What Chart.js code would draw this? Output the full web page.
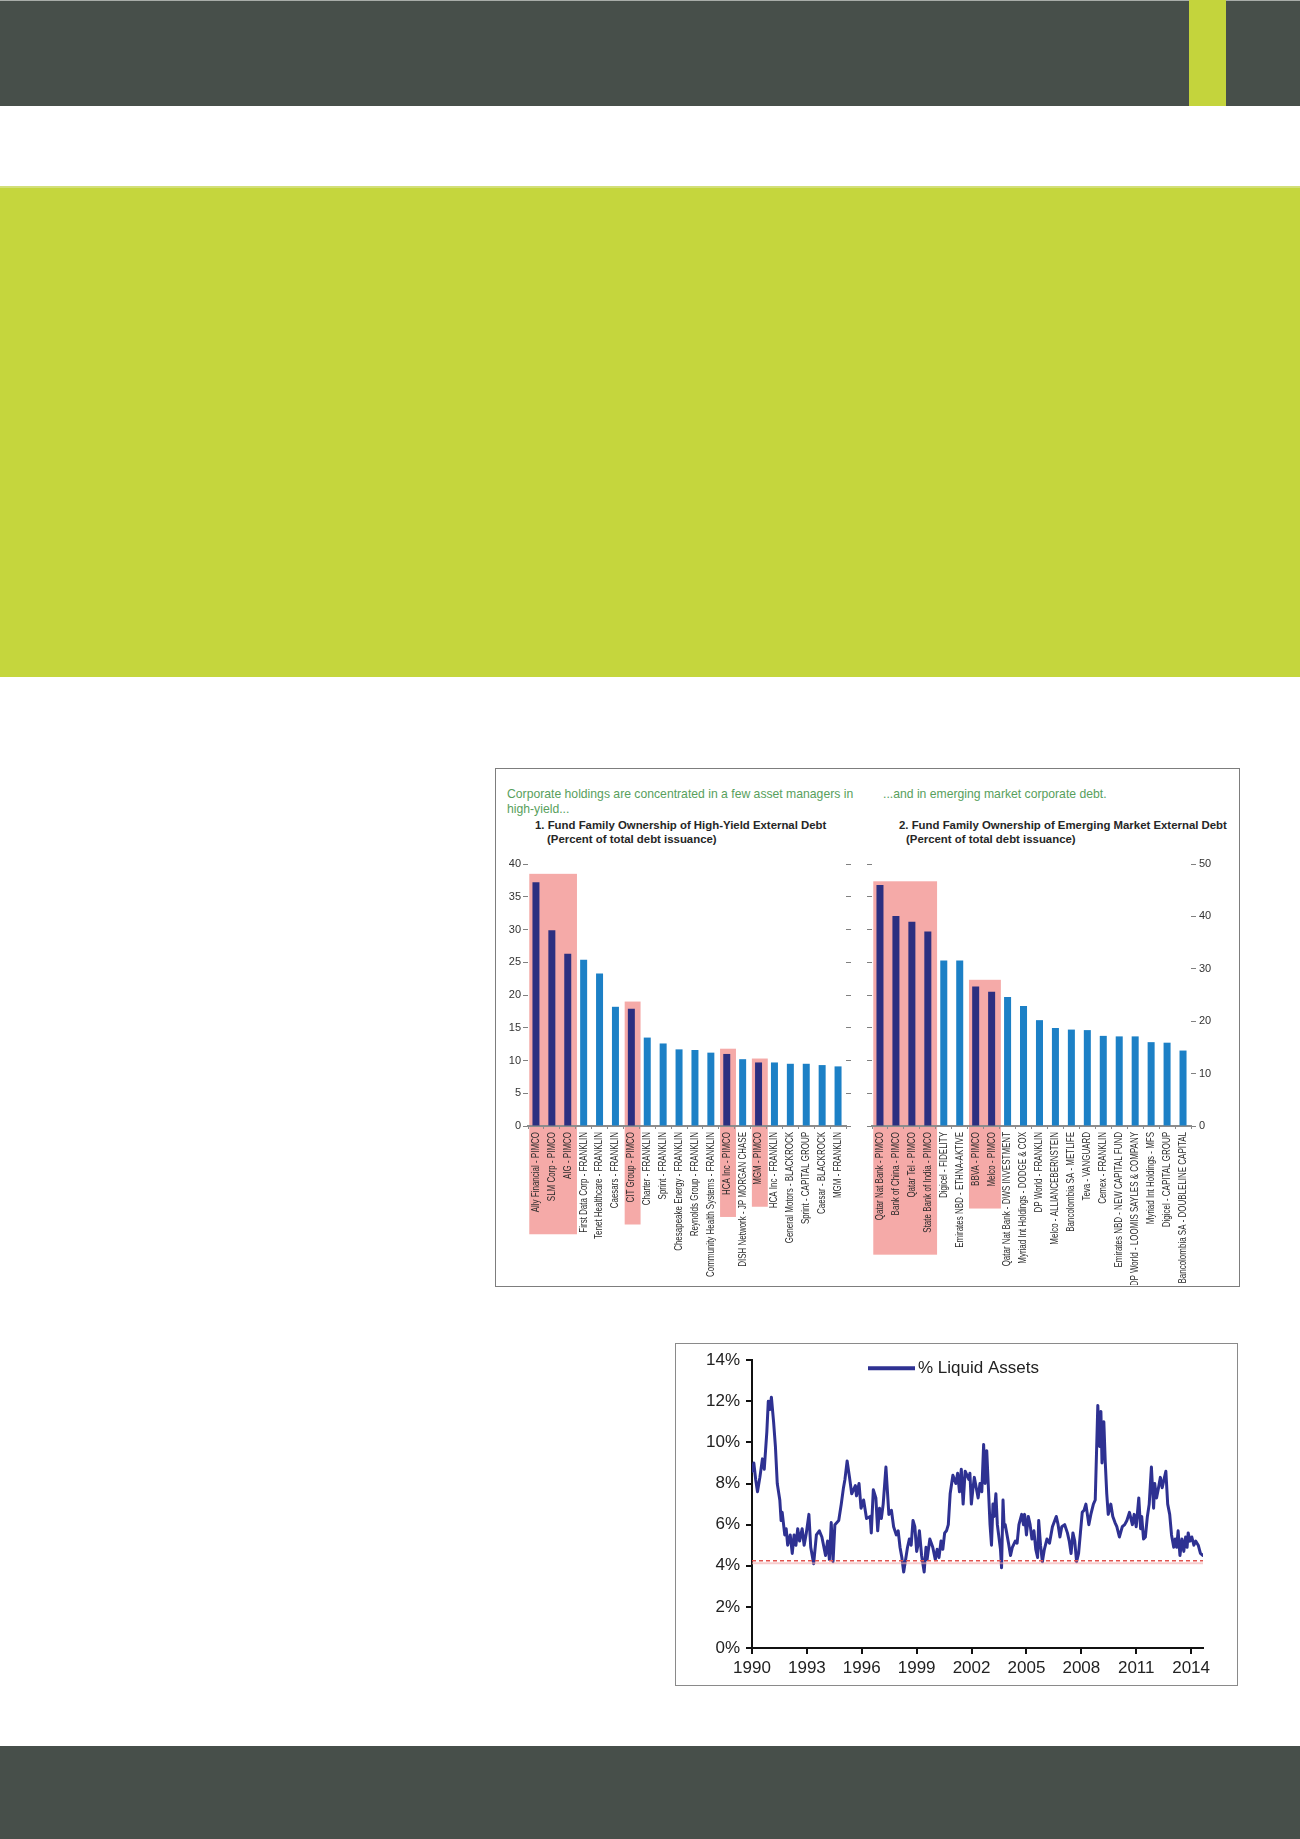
<!DOCTYPE html>
<html>
<head>
<meta charset="utf-8">
<script src="https://cdn.jsdelivr.net/npm/chart.js@4.4.1/dist/chart.umd.min.js"></script>
<style>
    html, body { margin: 0; padding: 0; background: #fff; }
    #page { position: relative; width: 1300px; height: 1839px; overflow: hidden; font-family: "Liberation Sans", Arial, sans-serif; }
    .abs { position: absolute; box-sizing: border-box; white-space: nowrap; }
    #topbar { left: 0; top: 0; width: 1300px; height: 106px; background: #474f4a; border-top: 1px solid #a8ada9; }
    #stripe { left: 1189px; top: 0; width: 37px; height: 106px; background: #c4d43c; }
    #lime { left: 0; top: 186px; width: 1300px; height: 491px; background: #c5d63d; border-top: 2px solid #d2df79; }
    #barbox { left: 495px; top: 768px; width: 745px; height: 519px; border: 1.5px solid #7d7d7d; }
    #linebox { left: 675px; top: 1343px; width: 563px; height: 343px; border: 1.5px solid #8a8a8a; }
    #bottombar { left: 0; top: 1746px; width: 1300px; height: 93px; background: #474f4a; }
    .sub { color: #58a05c; font-size: 12.2px; line-height: 15px; }
    .ttl { color: #262626; font-size: 11.4px; font-weight: bold; line-height: 13px; }
    canvas { position: absolute; }
</style>
</head>
<body>
<div id="page">
    <div id="topbar" class="abs"></div>
    <div id="stripe" class="abs"></div>
    <div id="lime" class="abs"></div>

    <div id="barbox" class="abs"></div>
    <div class="abs sub" style="left:507px;top:787px;">Corporate holdings are concentrated in a few asset managers in<br>high-yield...</div>
    <div class="abs sub" style="left:883px;top:787px;">...and in emerging market corporate debt.</div>
    <div class="abs ttl" style="left:535px;top:819px;">1. Fund Family Ownership of High-Yield External Debt</div>
    <div class="abs ttl" style="left:547px;top:833px;">(Percent of total debt issuance)</div>
    <div class="abs ttl" style="left:899px;top:819px;">2. Fund Family Ownership of Emerging Market External Debt</div>
    <div class="abs ttl" style="left:906px;top:833px;">(Percent of total debt issuance)</div>
    <canvas id="hyChart" width="361" height="435" style="left:497px;top:850px;"></canvas>
    <canvas id="emChart" width="380" height="435" style="left:858px;top:850px;"></canvas>

    <div id="linebox" class="abs"></div>
    <canvas id="liqChart" width="561" height="341" style="left:676px;top:1344px;"></canvas>

    <div id="bottombar" class="abs"></div>
</div>

<script>
    // high-yield external debt, percent of issuance
    const hyLabels = [
        "Ally Financial - PIMCO", "SLM Corp - PIMCO", "AIG - PIMCO", "First Data Corp - FRANKLIN",
        "Tenet Healthcare - FRANKLIN", "Caesars - FRANKLIN", "CIT Group - PIMCO", "Charter - FRANKLIN",
        "Sprint - FRANKLIN", "Chesapeake Energy - FRANKLIN", "Reynolds Group - FRANKLIN",
        "Community Health Systems - FRANKLIN", "HCA Inc - PIMCO", "DISH Network - JP MORGAN CHASE",
        "MGM - PIMCO", "HCA Inc - FRANKLIN", "General Motors - BLACKROCK", "Sprint - CAPITAL GROUP",
        "Caesar - BLACKROCK", "MGM - FRANKLIN"
    ];
    const hyValues = [37.2, 29.9, 26.3, 25.4, 23.3, 18.2, 17.9, 13.5, 12.6, 11.7, 11.6, 11.2, 11.0, 10.2, 9.7, 9.7, 9.5, 9.5, 9.3, 9.1];
    // [first index, last index, top value] of the pink highlight boxes
    const hyBoxes = [[0, 2, 38.5], [6, 6, 19.0], [12, 12, 11.8], [14, 14, 10.3]];

    // emerging market external debt
    const emLabels = [
        "Qatar Nat Bank - PIMCO", "Bank of China - PIMCO", "Qatar Tel - PIMCO", "State Bank of India - PIMCO",
        "Digicel - FIDELITY", "Emirates NBD - ETHNA-AKTIVE", "BBVA - PIMCO", "Melco - PIMCO",
        "Qatar Nat Bank - DWS INVESTMENT", "Myriad Int Holdings - DODGE & COX", "DP World - FRANKLIN",
        "Melco - ALLIANCEBERNSTEIN", "Bancolombia SA - METLIFE", "Teva - VANGUARD", "Cemex - FRANKLIN",
        "Emirates NBD - NEW CAPITAL FUND", "DP World - LOOMIS SAYLES & COMPANY", "Myriad Int Holdings - MFS",
        "Digicel - CAPITAL GROUP", "Bancolombia SA - DOUBLELINE CAPITAL"
    ];
    const emValues = [46.0, 40.1, 39.0, 37.1, 31.6, 31.6, 26.6, 25.6, 24.6, 22.9, 20.2, 18.7, 18.4, 18.3, 17.2, 17.1, 17.1, 16.0, 15.9, 14.4];
    const emBoxes = [[0, 3, 46.7], [6, 7, 27.9]];

    // % liquid assets
    const liqYears = [
        1990.00, 1990.10, 1990.20, 1990.30, 1990.43, 1990.57, 1990.67, 1990.81, 1990.89, 1990.98,
        1991.06, 1991.18, 1991.28, 1991.38, 1991.52, 1991.59, 1991.65, 1991.79, 1991.87, 1991.95,
        1992.09, 1992.20, 1992.30, 1992.40, 1992.50, 1992.60, 1992.74, 1992.85, 1992.97, 1993.11,
        1993.21, 1993.37, 1993.52, 1993.68, 1993.82, 1994.02, 1994.13, 1994.23, 1994.33, 1994.43,
        1994.53, 1994.74, 1994.88, 1995.00, 1995.08, 1995.20, 1995.33, 1995.45, 1995.65, 1995.71,
        1995.85, 1995.96, 1996.10, 1996.26, 1996.46, 1996.52, 1996.63, 1996.77, 1996.87, 1996.97,
        1997.07, 1997.17, 1997.32, 1997.48, 1997.62, 1997.74, 1997.89, 1997.99, 1998.09, 1998.19,
        1998.29, 1998.50, 1998.60, 1998.70, 1998.80, 1998.90, 1999.00, 1999.07, 1999.15, 1999.27,
        1999.41, 1999.51, 1999.57, 1999.72, 1999.88, 2000.02, 2000.12, 2000.22, 2000.33, 2000.43,
        2000.53, 2000.63, 2000.73, 2000.83, 2000.98, 2001.14, 2001.24, 2001.34, 2001.44, 2001.54,
        2001.65, 2001.85, 2001.91, 2001.99, 2002.07, 2002.15, 2002.36, 2002.46, 2002.56, 2002.66,
        2002.74, 2002.83, 2002.93, 2003.01, 2003.09, 2003.17, 2003.23, 2003.33, 2003.41, 2003.48,
        2003.58, 2003.64, 2003.72, 2003.78, 2003.84, 2003.92, 2004.02, 2004.13, 2004.23, 2004.39,
        2004.49, 2004.59, 2004.74, 2004.84, 2004.90, 2005.00, 2005.10, 2005.20, 2005.30, 2005.41,
        2005.51, 2005.61, 2005.67, 2005.77, 2005.87, 2005.98, 2006.12, 2006.26, 2006.42, 2006.63,
        2006.73, 2006.83, 2006.93, 2007.09, 2007.24, 2007.34, 2007.44, 2007.54, 2007.64, 2007.74,
        2007.85, 2007.95, 2008.05, 2008.15, 2008.25, 2008.41, 2008.52, 2008.66, 2008.76, 2008.90,
        2009.00, 2009.07, 2009.13, 2009.23, 2009.31, 2009.39, 2009.47, 2009.61, 2009.72, 2009.84,
        2009.94, 2010.08, 2010.24, 2010.37, 2010.49, 2010.63, 2010.79, 2010.89, 2011.00, 2011.14,
        2011.24, 2011.30, 2011.40, 2011.50, 2011.61, 2011.71, 2011.83, 2011.95, 2012.01, 2012.11,
        2012.22, 2012.32, 2012.42, 2012.52, 2012.62, 2012.72, 2012.83, 2012.93, 2013.05, 2013.13,
        2013.21, 2013.29, 2013.39, 2013.50, 2013.60, 2013.70, 2013.78, 2013.84, 2013.94, 2014.04,
        2014.15, 2014.25, 2014.39, 2014.51, 2014.65
    ];
    const liqValues = [
        8.6, 9.0, 8.2, 7.6, 8.3, 9.2, 8.7, 10.5, 12.0, 11.6,
        12.2, 11.0, 9.8, 8.0, 7.2, 6.2, 6.6, 5.5, 5.8, 5.0,
        5.5, 4.6, 5.5, 5.0, 5.8, 5.2, 5.8, 5.0, 5.6, 6.5,
        4.9, 4.1, 5.5, 5.7, 5.4, 4.5, 5.2, 4.3, 6.1, 4.2,
        6.0, 6.2, 7.0, 7.8, 8.2, 9.1, 8.3, 7.5, 7.9, 7.4,
        8.0, 6.8, 7.2, 6.3, 6.4, 5.6, 7.7, 7.3, 5.7, 6.8,
        6.3, 7.0, 8.8, 6.5, 6.7, 5.9, 5.5, 5.7, 4.9, 4.4,
        3.7, 4.9, 5.3, 5.0, 6.2, 5.9, 4.7, 5.0, 5.7, 4.5,
        3.7, 4.9, 4.3, 5.3, 4.9, 4.3, 4.8, 4.4, 5.2, 4.8,
        5.6, 5.7, 6.0, 7.5, 8.4, 8.0, 8.5, 7.6, 8.7, 7.0,
        8.6, 8.2, 8.5, 7.0, 7.7, 8.3, 7.3, 8.0, 7.6, 9.9,
        8.0, 9.6, 7.6, 6.0, 5.0, 7.0, 6.4, 7.5, 6.0, 5.5,
        4.8, 3.9, 7.2, 5.9, 6.0, 5.6, 5.1, 4.5, 4.9, 5.2,
        5.1, 6.0, 6.5, 6.0, 6.5, 5.5, 6.4, 6.0, 5.3, 5.7,
        4.8, 4.4, 6.2, 5.0, 4.2, 4.8, 5.3, 5.1, 5.9, 6.4,
        6.0, 5.4, 5.9, 6.0, 5.6, 5.2, 4.6, 5.6, 5.2, 4.2,
        4.6, 5.6, 6.6, 6.7, 7.0, 6.0, 6.5, 7.0, 7.2, 11.8,
        9.8, 11.5, 9.0, 11.0, 9.0, 7.5, 6.5, 7.0, 6.4, 6.1,
        5.9, 5.4, 5.9, 6.0, 6.2, 6.6, 6.0, 6.5, 5.9, 7.3,
        5.8, 6.4, 5.3, 5.4, 6.4, 7.0, 8.8, 6.8, 8.0, 7.3,
        7.8, 8.3, 7.8, 8.2, 8.6, 7.0, 6.5, 5.5, 4.9, 5.3,
        4.9, 5.7, 4.5, 5.3, 4.7, 5.4, 4.9, 5.6, 5.2, 5.4,
        5.0, 5.2, 5.0, 4.6, 4.5
    ];
    const floorYears = [1990, 2014.75];
    const floorLevel = 4.25;
    const floorShadow = 4.12;
    const yearTicks = [1990, 1993, 1996, 1999, 2002, 2005, 2008, 2011, 2014];

    const SANS = '"Liberation Sans", Arial, sans-serif';
    const NAVY = "#2c2f80";
    const BLUE = "#1c80c6";
    const PINK = "#f5aaa8";
    const LABEL_FONT = `10.5px ${SANS}`;
    const SQUEEZE = 0.76; // narrow look of the category labels

    Chart.defaults.font.family = SANS;

    // pink boxes behind the PIMCO bars and their labels
    const highlightPlugin = {
        id: "highlight",
        beforeDraw(chart, args, opts) {
            const x = chart.scales.x;
            const y = chart.scales[opts.axis];
            const ctx = chart.ctx;
            const w = x.getPixelForValue(1) - x.getPixelForValue(0);
            ctx.save();
            ctx.font = LABEL_FONT;
            opts.boxes.forEach(([a, b, top]) => {
                const longest = Math.max(...chart.data.labels.slice(a, b + 1).map(l => ctx.measureText(l).width)) * SQUEEZE;
                const left = x.getPixelForValue(a) - 0.42 * w;
                const right = x.getPixelForValue(b) + 0.58 * w;
                const t = y.getPixelForValue(top);
                const bottom = chart.chartArea.bottom + 6 + longest + 22;
                ctx.fillStyle = PINK;
                ctx.fillRect(left, t, right - left, bottom - t);
            });
            ctx.restore();
        }
    };

    // vertical category labels, condensed along the text
    const narrowLabels = {
        id: "narrowLabels",
        afterDraw(chart) {
            const x = chart.scales.x;
            const ctx = chart.ctx;
            ctx.save();
            ctx.font = LABEL_FONT;
            ctx.fillStyle = "#2a2a2a";
            ctx.textAlign = "right";
            ctx.textBaseline = "middle";
            chart.data.labels.forEach((l, i) => {
                ctx.save();
                ctx.translate(x.getPixelForValue(i), chart.chartArea.bottom + 6);
                ctx.rotate(-Math.PI / 2);
                ctx.scale(SQUEEZE, 1);
                ctx.fillText(l, 0, 0);
                ctx.restore();
            });
            ctx.restore();
        }
    };

    const barColor = (l) => l.endsWith("PIMCO") ? NAVY : BLUE;

    const tickAxis = (position, max, step, width, showLabels) => ({
        position,
        min: 0,
        max,
        ticks: { stepSize: step, display: showLabels, color: "#333", padding: 2, font: { family: SANS, size: 11 } },
        grid: { drawOnChartArea: false, tickLength: 5, color: "#808080" },
        border: { display: false },
        afterFit: (s) => { s.width = width; }
    });

    const xAxis = {
        grid: { drawOnChartArea: false, tickLength: 3, color: "#8c8c8c", offset: true },
        border: { color: "#8c8c8c", width: 2 },
        ticks: { display: false, autoSkip: false },
        afterFit: (s) => { s.height = 159; }
    };

    function barChart(id, labels, values, boxes, scales) {
        return new Chart(document.getElementById(id).getContext("2d"), {
            type: "bar",
            data: {
                labels,
                datasets: [{ data: values, backgroundColor: labels.map(barColor), barPercentage: 0.44, categoryPercentage: 1, yAxisID: "y" }]
            },
            options: {
                responsive: false,
                animation: false,
                layout: { padding: { top: 14, left: 0, right: 0, bottom: 0 } },
                plugins: { legend: { display: false }, tooltip: { enabled: false }, highlight: { boxes, axis: "y" } },
                scales: Object.assign({ x: xAxis }, scales)
            },
            plugins: [highlightPlugin, narrowLabels]
        });
    }

    barChart("hyChart", hyLabels, hyValues, hyBoxes, {
        y: tickAxis("left", 40, 5, 31, true),
        y2: tickAxis("right", 40, 5, 12, false)
    });

    const emRight = tickAxis("right", 50, 10, 47, true);
    emRight.ticks.padding = 3;
    barChart("emChart", emLabels, emValues, emBoxes, {
        y: emRight,
        yL: tickAxis("left", 40, 5, 14, false)
    });

    // legend drawn inside the plot, line sample + label
    const liqLegend = {
        id: "liqLegend",
        afterDraw(chart) {
            const { ctx, chartArea } = chart;
            const ds = chart.data.datasets.find(d => d.label === "% Liquid Assets");
            const x0 = chartArea.left + 116;
            const y0 = chartArea.top + 8;
            ctx.save();
            ctx.strokeStyle = ds.borderColor;
            ctx.lineWidth = 4;
            ctx.beginPath();
            ctx.moveTo(x0, y0);
            ctx.lineTo(x0 + 47, y0);
            ctx.stroke();
            ctx.fillStyle = "#222";
            ctx.font = `17px ${SANS}`;
            ctx.textBaseline = "middle";
            ctx.fillText(ds.label, x0 + 50, y0);
            ctx.restore();
        }
    };

    new Chart(document.getElementById("liqChart").getContext("2d"), {
        type: "line",
        data: {
            datasets: [
                { label: "floor", data: floorYears.map(x => ({ x, y: floorLevel })), borderColor: "#e2524e", borderWidth: 1.5, borderDash: [4, 3], pointRadius: 0 },
                { label: "floor shadow", data: floorYears.map(x => ({ x, y: floorShadow })), borderColor: "rgba(240,170,170,0.6)", borderWidth: 2, pointRadius: 0 },
                {
                    label: "% Liquid Assets", data: liqYears.map((x, i) => ({ x, y: liqValues[i] })),
                    borderColor: "#2e3192", borderWidth: 3, borderJoinStyle: "round", borderCapStyle: "round", pointRadius: 0, tension: 0
                }
            ]
        },
        options: {
            responsive: false,
            animation: false,
            layout: { padding: { top: 15, right: 34, left: 0, bottom: 0 } },
            plugins: { legend: { display: false }, tooltip: { enabled: false } },
            scales: {
                x: {
                    type: "linear",
                    min: 1990,
                    max: 2014.65,
                    afterBuildTicks: (s) => { s.ticks = yearTicks.map(v => ({ value: v })); },
                    ticks: { callback: (v) => String(v), color: "#222", padding: 4, maxRotation: 0, autoSkip: false, font: { family: SANS, size: 17 } },
                    grid: { drawOnChartArea: false, tickLength: 6, color: "#111", lineWidth: 2 },
                    border: { color: "#111", width: 2 },
                    afterFit: (s) => { s.height = 37; }
                },
                y: {
                    min: 0,
                    max: 14,
                    ticks: { stepSize: 2, callback: (v) => v + "%", color: "#222", padding: 6, font: { family: SANS, size: 17 } },
                    grid: { drawOnChartArea: false, tickLength: 6, color: "#111", lineWidth: 2 },
                    border: { color: "#111", width: 2 },
                    afterFit: (s) => { s.width = 76; }
                }
            }
        },
        plugins: [liqLegend]
    });
</script>
</body>
</html>
